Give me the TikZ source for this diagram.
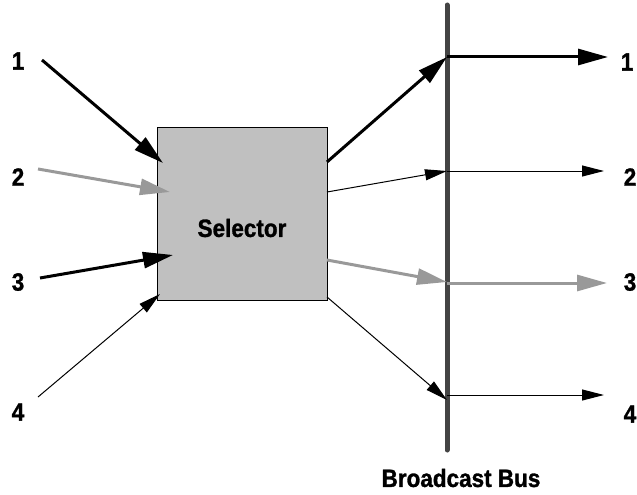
\documentclass[tikz,border=0pt]{standalone}
\usepackage{fontspec}
\setmainfont{Liberation Sans}[FakeStretch=0.9, BoldFeatures={FakeBold=1.2}]
\usetikzlibrary{arrows.meta}
\definecolor{boxgray}{HTML}{C0C0C0}
\definecolor{busgray}{HTML}{444444}
\definecolor{siggray}{HTML}{999999}
\begin{document}
\begin{tikzpicture}[x=1pt,y=-1pt,
  lbl/.style={font=\fontsize{25}{29}\selectfont\bfseries, inner sep=0pt},
  heavy/.style={line width=3pt, -{Triangle[length=30pt,width=16pt]}},
  heavygray/.style={heavy, draw=siggray, fill=siggray},
  light/.style={line width=1pt, -{Triangle[length=22pt,width=11pt]}},
  bus/.style={line width=5pt, draw=busgray, line cap=round}]
  \useasboundingbox (0,0) rectangle (637,495);

  % selector block
  \node[draw, fill=boxgray, line width=0.8pt, minimum width=170pt,
        minimum height=173pt, inner sep=0pt] (sel) at (242,213.5) {};
  \node[lbl] (selText) at (242,228) {Selector};

  % broadcast bus
  \coordinate (busTop) at (447,5);
  \coordinate (busBot) at (447,450);
  \draw[bus] (busTop) -- (busBot);
  \node[lbl] (busText) at (461,478) {Broadcast Bus};

  % input side
  \node[lbl] (inA) at (18,61) {1};
  \node[lbl] (inB) at (18,177) {2};
  \node[lbl] (inC) at (18,282) {3};
  \node[lbl] (inD) at (18,412) {4};
  \coordinate (sA) at (42,60);
  \coordinate (sB) at (38,169);
  \coordinate (sC) at (40,278);
  \coordinate (sD) at (38,397);
  \coordinate (eA) at (163,163);
  \coordinate (eB) at (170,192);
  \coordinate (eC) at (173,255);
  \coordinate (eD) at (160,294);
  \draw[heavy] (sA) -- (eA);
  \draw[heavygray] (sB) -- (eB);
  \draw[heavy] (sC) -- (eC);
  \draw[light] (sD) -- (eD);

  % selector outputs onto the bus
  \coordinate (oA) at (327,162);
  \coordinate (oB) at (327,192);
  \coordinate (oC) at (327,260);
  \coordinate (oD) at (327,297);
  \coordinate (tA) at (447,57);
  \coordinate (tB) at (447,171);
  \coordinate (tC) at (447,282);
  \coordinate (tD) at (447,400);
  \draw[heavy] (oA) -- (tA);
  \draw[light] (oB) -- (tB);
  \draw[heavygray] (oC) -- (tC);
  \draw[light] (oD) -- (tD);

  % bus taps
  \coordinate (hA) at (447,57);
  \coordinate (hB) at (447,171);
  \coordinate (hC) at (447,283);
  \coordinate (hD) at (447,395);
  \coordinate (fA) at (608,57);
  \coordinate (fB) at (604,171);
  \coordinate (fC) at (607,283);
  \coordinate (fD) at (604,395);
  \draw[heavy] (hA) -- (fA);
  \draw[light] (hB) -- (fB);
  \draw[heavygray] (hC) -- (fC);
  \draw[light] (hD) -- (fD);

  \node[lbl] (outA) at (627,62) {1};
  \node[lbl] (outB) at (630,177) {2};
  \node[lbl] (outC) at (630,282) {3};
  \node[lbl] (outD) at (630,414) {4};
\end{tikzpicture}
\end{document}
